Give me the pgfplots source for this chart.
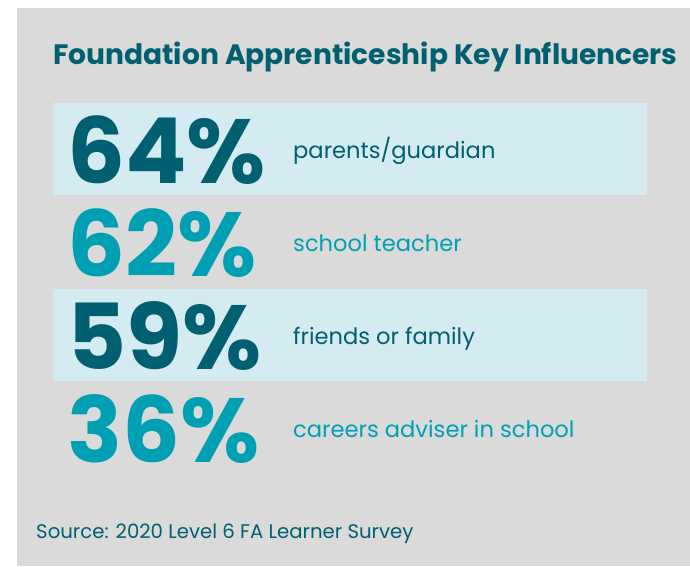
\documentclass[border=0pt]{standalone}
\usepackage{pgfplots}
\pgfplotsset{compat=1.18}
\usepackage{pgfplotstable}
\usepackage{fontspec}
\setmainfont{Poppins}
\definecolor{dark}{HTML}{005F70}
\definecolor{light}{HTML}{00A0B4}
\definecolor{band}{HTML}{D5EBF2}
\definecolor{bg}{HTML}{DADADA}

% rows 1 and 3 (dark), rows 2 and 4 (light); x,y in pixel units (baselines)
\pgfplotstableread[col sep=comma]{
x,y,value
67,183,64
67,369,59
}\darknums
\pgfplotstableread[col sep=comma]{
x,y,value
67,276,62
67,462,36
}\lightnums
\pgfplotstableread[col sep=comma]{
x,y,label
293,158,parents/guardian
293,344,friends or family
}\darklabels
\pgfplotstableread[col sep=comma]{
x,y,label
293,251,school teacher
293,437,careers adviser in school
}\lightlabels

\begin{document}
\begin{tikzpicture}
\begin{axis}[
  hide axis, scale only axis, width=690pt, height=566pt,
  xmin=0, xmax=690, ymin=0, ymax=566, y dir=reverse, clip=false,
  /pgf/number format/assume math mode=true,
]
\addplot[fill=white, draw=none] coordinates {(0,0) (690,0) (690,566) (0,566)} -- cycle;
\addplot[fill=bg, draw=none] coordinates {(17,8) (690,8) (690,566) (17,566)} -- cycle;
\addplot[fill=band, draw=none] coordinates {(53,103) (647,103) (647,195) (53,195)} -- cycle;
\addplot[fill=band, draw=none] coordinates {(53,289) (647,289) (647,381) (53,381)} -- cycle;

\addplot[draw=none, mark=none,
  point meta=explicit,
  nodes near coords={\pgfmathprintnumber[assume math mode=true]{\pgfplotspointmeta}\%},
  every node near coord/.append style={anchor=base west, inner sep=0pt, text=dark,
     font=\bfseries\fontsize{91}{91}\selectfont}]
  table[x=x, y=y, meta=value] {\darknums};
\addplot[draw=none, mark=none,
  point meta=explicit,
  nodes near coords={\pgfmathprintnumber[assume math mode=true]{\pgfplotspointmeta}\%},
  every node near coord/.append style={anchor=base west, inner sep=0pt, text=light,
     font=\bfseries\fontsize{91}{91}\selectfont}]
  table[x=x, y=y, meta=value] {\lightnums};
\addplot[draw=none, mark=none,
  point meta=explicit symbolic,
  nodes near coords,
  every node near coord/.append style={anchor=base west, inner sep=0pt, text=dark,
     font=\fontsize{22.6}{22.6}\selectfont}]
  table[x=x, y=y, meta=label] {\darklabels};
\addplot[draw=none, mark=none,
  point meta=explicit symbolic,
  nodes near coords,
  every node near coord/.append style={anchor=base west, inner sep=0pt, text=light,
     font=\fontsize{22.6}{22.6}\selectfont}]
  table[x=x, y=y, meta=label] {\lightlabels};

\node[anchor=base west, inner sep=0pt, text=dark, font=\bfseries\fontsize{28.1}{28.1}\selectfont]
  at (axis cs:53,64) {Foundation Apprenticeship Key Influencers};
\node[anchor=base west, inner sep=0pt, text=dark, font=\fontsize{19.7}{19.7}\selectfont]
  at (axis cs:36,538) {Source: 2020 Level 6 FA Learner Survey};
\end{axis}
\end{tikzpicture}
\end{document}
